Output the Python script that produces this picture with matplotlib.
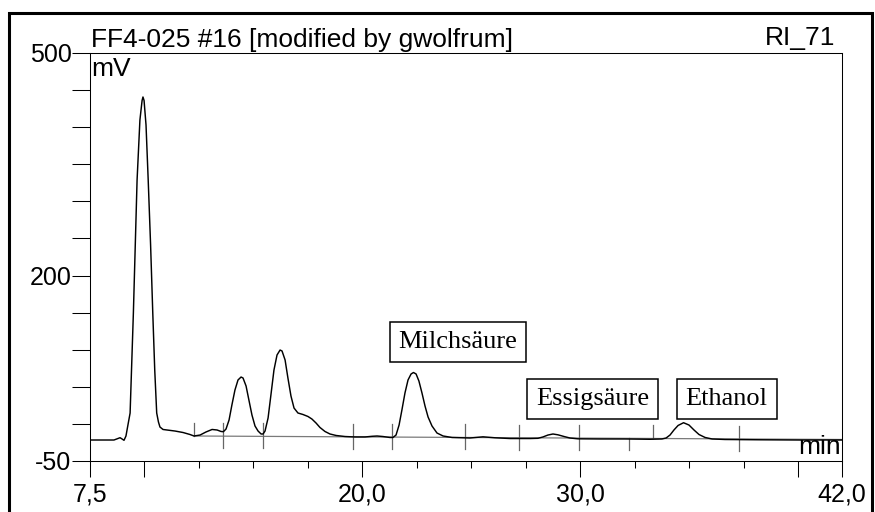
import matplotlib
matplotlib.use("Agg")
import matplotlib.pyplot as plt
from matplotlib.lines import Line2D
import numpy as np

plt.rcParams["font.family"] = ["Liberation Sans", "DejaVu Sans"]

# --- chromatogram trace (retention time in min, detector signal in mV) ---
time_min = [
    7.50, 8.60, 8.78, 8.88, 8.97, 9.06, 9.15, 9.24, 9.34, 9.49, 9.66, 9.79,
    9.89, 9.93, 9.98, 10.07, 10.17, 10.28, 10.38, 10.47, 10.56, 10.64, 10.71,
    10.85, 11.03, 11.40, 11.77, 12.09, 12.27, 12.55, 12.82, 13.10, 13.33,
    13.51, 13.62, 13.74, 13.88, 14.01, 14.15, 14.29, 14.43, 14.52, 14.66,
    14.79, 14.93, 15.07, 15.21, 15.35, 15.44, 15.53, 15.67, 15.80, 15.94,
    16.08, 16.22, 16.31, 16.45, 16.58, 16.72, 16.86, 17.04, 17.27, 17.50,
    17.68, 17.87, 18.05, 18.28, 18.51, 18.79, 19.20, 19.66, 20.12, 20.44,
    20.67, 20.94, 21.26, 21.40, 21.54, 21.68, 21.81, 21.95, 22.09, 22.23,
    22.34, 22.46, 22.59, 22.73, 22.87, 23.01, 23.19, 23.42, 23.70, 24.11,
    24.93, 25.53, 26.08, 26.77, 27.69, 28.05, 28.28, 28.51, 28.74, 28.97,
    29.25, 29.52, 29.89, 30.90, 32.04, 33.19, 33.74, 33.93, 34.11, 34.29,
    34.48, 34.73, 34.98, 35.21, 35.44, 35.72, 36.04, 36.63, 38.24, 40.07,
    42.00,
]
signal_mv = [
    -21.7, -21.7, -19.7, -18.6, -20.3, -22.1, -16.3, -1.5, 14.7, 149.5, 328.8,
    409.7, 436.0, 440.7, 436.0, 403.0, 328.8, 241.2, 149.5, 72.7, 14.7, 2.6,
    -4.2, -7.5, -8.2, -9.6, -11.6, -14.3, -16.3, -15.0, -10.9, -7.5, -8.2,
    -10.2, -10.5, -6.9, 5.3, 25.5, 45.7, 59.2, 63.2, 61.9, 51.1, 32.2, 12.0,
    -2.8, -9.6, -13.6, -13.6, -9.6, 8.0, 39.0, 72.7, 92.9, 99.6, 98.3, 86.2,
    61.9, 37.6, 21.4, 14.7, 12.7, 10.0, 6.6, 1.2, -4.8, -10.2, -13.6, -15.6,
    -17.0, -17.6, -17.6, -16.7, -16.3, -17.0, -18.3, -18.3, -15.0, -1.5, 18.8,
    41.7, 59.2, 67.3, 69.3, 67.3, 57.8, 41.7, 24.1, 9.3, -2.8, -12.3, -16.3,
    -18.3, -19.0, -17.4, -18.7, -19.7, -19.7, -19.4, -17.6, -15.0, -13.6,
    -14.7, -17.0, -19.0, -20.1, -20.3, -20.3, -20.7, -20.3, -19.0, -15.0,
    -8.2, -2.1, 1.6, -1.5, -8.2, -14.3, -18.3, -20.3, -21.0, -21.4, -21.7,
    -21.7,
]

# integration baseline and peak-boundary marks
baseline_t = [12.28, 42.0]
baseline_mv = [-16.3, -21.0]
mark_times = [12.28, 13.61, 15.42, 19.55, 21.35, 24.70, 27.18, 29.95,
              32.24, 33.34, 37.27]
mark_kind = ["up", "both", "both", "both", "both", "both", "both", "both",
             "down", "up", "both"]

# peak names
peak_names = ["Milchsäure", "Essigsäure", "Ethanol"]

# axis ticks
x_major = [7.5, 10.0, 20.0, 30.0, 40.0, 42.0]
x_major_labels = ["7,5", "", "20,0", "30,0", "", "42,0"]
x_minor = [12.5, 15.0, 17.5, 22.5, 25.0, 27.5, 32.5, 35.0, 37.5]
y_major = [-50, 200, 500]
y_major_labels = ["-50", "200", "500"]
y_minor = [0, 50, 100, 150, 250, 300, 350, 400, 450]

W, H = 875, 512
fig = plt.figure(figsize=(W / 100, H / 100), dpi=100)
ax = fig.add_axes([90 / W, 51 / H, 752 / W, 408 / H])


def fpos(x, y):
    return x / W, 1 - y / H


ax.plot(time_min, signal_mv, color="black", lw=1.05, zorder=3,
        solid_joinstyle="round")
ax.plot(baseline_t, baseline_mv, color="#7a7a7a", lw=0.9, zorder=2)

up_len, down_len = 17.5, 16.0
for t, kind in zip(mark_times, mark_kind):
    b = np.interp(t, baseline_t, baseline_mv)
    top = b + (up_len if kind in ("up", "both") else 0)
    bot = b - (down_len if kind in ("down", "both") else 0)
    ax.plot([t, t], [bot, top], color="#666666", lw=0.9, zorder=2)

ax.set_xlim(7.5, 42.0)
ax.set_ylim(-50, 500)

ax.set_xticks(x_major, labels=x_major_labels)
ax.set_xticks(x_minor, minor=True)
ax.set_yticks(y_major, labels=y_major_labels)
ax.set_yticks(y_minor, minor=True)

ax.tick_params(axis="x", which="major", direction="out", length=11.5,
               width=0.75, pad=4.0, labelsize=18)
ax.tick_params(axis="x", which="minor", direction="out", length=5,
               width=0.75)
ax.tick_params(axis="y", which="both", direction="out", length=13,
               width=0.75, pad=0.3, labelsize=18)
for sp in ax.spines.values():
    sp.set_linewidth(0.75)

# peak name boxes
label_pos = [(24.38, 110.4), (30.55, 33.6), (36.71, 33.6)]
for name, (lx, ly) in zip(peak_names, label_pos):
    ax.text(lx, ly, name, ha="center", va="center", fontsize=19,
            family=["Liberation Serif", "DejaVu Serif"], zorder=4,
            bbox=dict(boxstyle="square,pad=0.34", fc="white", ec="black",
                      lw=1.1))

# header and unit labels
fig.text(*fpos(91, 46.5), "FF4-025 #16 [modified by gwolfrum]",
         ha="left", va="baseline", fontsize=19)
fig.text(*fpos(835, 45.5), "RI_71", ha="right", va="baseline", fontsize=19)
fig.text(*fpos(91.5, 76.5), "mV", ha="left", va="baseline", fontsize=19)
fig.text(*fpos(798, 453.5), "min", ha="left", va="baseline", fontsize=19)

# outer frame
frame_x = [9 / W, 9 / W, 872 / W, 872 / W]
frame_y = [-0.01, 1 - 13 / H, 1 - 13 / H, -0.01]
fig.add_artist(Line2D(frame_x, frame_y, color="black", lw=2.2,
                      transform=fig.transFigure, solid_joinstyle="miter"))

fig.savefig("out.png", dpi=100)
